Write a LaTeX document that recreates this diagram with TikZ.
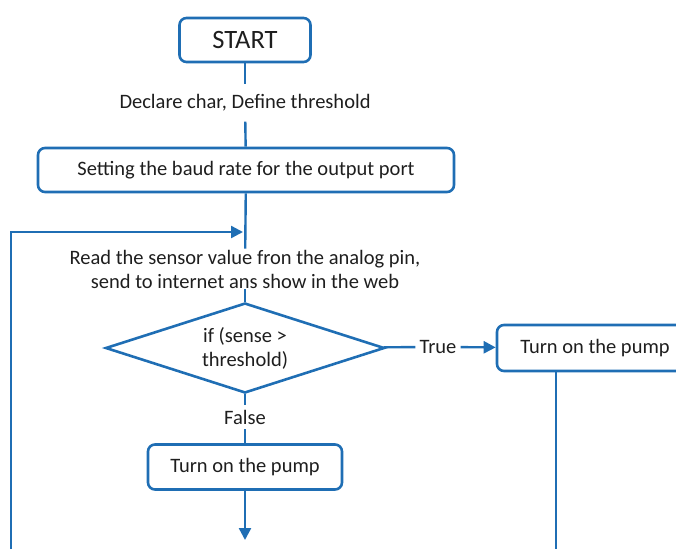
\documentclass[tikz,border=0pt]{standalone}
\usepackage{fontspec}
\setmainfont{Carlito}
\usetikzlibrary{shapes.geometric,arrows.meta,calc}
\definecolor{fblue}{RGB}{31,110,180}
\definecolor{ftext}{RGB}{30,30,30}
\begin{document}
\begin{tikzpicture}[x=1pt,y=-1pt,
  font=\fontsize{20.5}{24}\selectfont, text=ftext,
  fbox/.style={draw=fblue, line width=2.6pt, rounded corners=7pt, inner sep=0pt, minimum height=44pt, align=center},
  ftxt/.style={inner xsep=2pt, align=center},
  fdia/.style={diamond, draw=fblue, line width=2.6pt, inner sep=0pt, aspect=3.1, minimum width=279pt, minimum height=90pt, align=center},
  flink/.style={draw=fblue, line width=2.4pt},
  farrow/.style={flink, -{Triangle[length=12pt,width=12pt]}}]
\useasboundingbox (0,0) rectangle (676,549);
\clip (0,0) rectangle (676,549);
\node[fbox, minimum width=131pt] (start) at (245,40) {\fontsize{26.5}{30}\selectfont START};
\node[ftxt, inner ysep=10pt] (decl) at (245,103) {Declare char, Define threshold};
\node[fbox, minimum width=416pt, minimum height=44pt] (baud) at (246,170) {Setting the baud rate for the output port};
\node[ftxt, inner ysep=1pt] (read) at (245,269) {Read the sensor value fron the analog pin,\\send to internet ans show in the web};
\node[fdia] (cond) at (245,348) {if (sense \textgreater\\threshold)};
\node[ftxt, inner xsep=4pt] (true) at (438,347) {True};
\node[fbox, minimum width=196pt, minimum height=46pt] (on1) at (595,348) {Turn on the pump};
\node[ftxt, inner ysep=5pt] (false) at (245,417) {False};
\node[fbox, minimum width=194pt, minimum height=45pt] (on2) at (245,467) {Turn on the pump};
\coordinate (join) at (245,232);
\coordinate (lb) at (11,549);
\coordinate (rb) at (556,549);
\coordinate (endp) at (245,540);
\draw[flink] (start) -- (decl);
\draw[flink] (decl) -- (baud);
\draw[flink] (baud) -- (read);
\draw[farrow, shorten >=2pt] (lb) |- (join);
\draw[flink] (read) -- (cond);
\draw[flink] (cond) -- (true);
\draw[farrow] (true) -- (on1);
\draw[flink] (on1.south -| rb) -- (rb);
\draw[flink] (cond) -- (false);
\draw[flink] (false) -- (on2);
\draw[farrow] (on2) -- (endp);
\end{tikzpicture}
\end{document}
